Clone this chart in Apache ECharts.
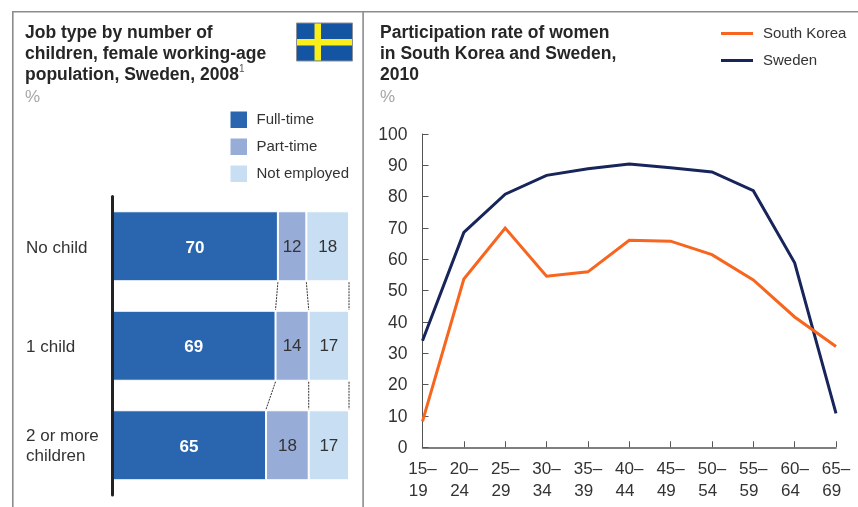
<!DOCTYPE html>
<html>
<head>
<meta charset="utf-8">
<style>html,body{margin:0;padding:0;background:#fff}#c{width:858px;height:507px}</style>
<script src="https://cdn.jsdelivr.net/npm/echarts@6/dist/echarts.min.js"></script>
</head>
<body>
<div id="c"></div>
<script>
const childCategories = ['No child', '1 child', '2 or more\nchildren'];
const fullTime = [70, 69, 65];
const partTime = [12, 14, 18];
const notEmployed = [18, 17, 17];
const ageGroups = ['15–\n19','20–\n24','25–\n29','30–\n34','35–\n39','40–\n44','45–\n49','50–\n54','55–\n59','60–\n64','65–\n69'];
const southKorea = [8.3, 53.7, 70, 54.6, 56, 66.1, 65.8, 61.5, 53.4, 41.6, 32.2];
const sweden = [34, 68.6, 80.8, 86.8, 88.9, 90.4, 89.2, 87.9, 81.9, 58.9, 10.8];

const FONT = '"Liberation Sans", Arial, sans-serif';
const INK = '#333333';
const BAR_W = 70;

const connectors = [];
for (let i = 0; i < childCategories.length - 1; i++) {
  connectors.push([fullTime[i], fullTime[i + 1], i]);
  connectors.push([fullTime[i] + partTime[i], fullTime[i + 1] + partTime[i + 1], i]);
  connectors.push([100, 100, i]);
}

const titleStyle = {fontFamily: FONT, fontSize: 17.5, fontWeight: 'bold', color: '#262626', lineHeight: 21,
  rich: {sup: {fontFamily: FONT, fontSize: 10, fontWeight: 'normal', color: '#555', verticalAlign: 'top', padding: [0, 0, 8, 0], lineHeight: 21}}};
const pctStyle = {fontFamily: FONT, fontSize: 17, fontWeight: 'normal', color: '#a6a6a6'};

function barSeries(name, data, color, labelColor, bold) {
  return {
    name, type: 'bar', stack: 'jobs', xAxisIndex: 0, yAxisIndex: 0, data, barWidth: BAR_W, z: 2,
    itemStyle: {color, borderColor: '#ffffff', borderWidth: 1},
    label: {show: true, position: 'inside', offset: [0, bold ? 2 : 1], fontFamily: FONT, fontSize: 17, color: labelColor, fontWeight: bold ? 'bold' : 'normal'},
    emphasis: {disabled: true}
  };
}

const chart = echarts.init(document.getElementById('c'), null, {renderer: 'canvas'});
chart.setOption({
  animation: false,
  backgroundColor: '#ffffff',
  textStyle: {fontFamily: FONT},
  title: [
    {left: 25, top: 22.5, padding: 0, text: 'Job type by number of\nchildren, female working-age\npopulation, Sweden, 2008{sup|1}', textStyle: titleStyle},
    {left: 25, top: 89, padding: 0, text: '%', textStyle: pctStyle},
    {left: 380, top: 22.5, padding: 0, text: 'Participation rate of women\nin South Korea and Sweden,\n2010', textStyle: titleStyle},
    {left: 380, top: 89, padding: 0, text: '%', textStyle: pctStyle}
  ],
  legend: [
    {orient: 'vertical', left: 228.5, top: 109.5, padding: 0, itemWidth: 18.5, itemHeight: 18.5, itemGap: 6.5, icon: 'rect',
     data: ['Full-time', 'Part-time', 'Not employed'], selectedMode: false,
     textStyle: {fontFamily: FONT, fontSize: 15, color: INK, padding: [0, 0, 0, 3.5]}},
    {orient: 'vertical', left: 721, top: 26, padding: 0, itemWidth: 32, itemHeight: 3, itemGap: 12, icon: 'rect',
     data: ['South Korea', 'Sweden'], selectedMode: false,
     textStyle: {fontFamily: FONT, fontSize: 15, color: INK, padding: [0, 0, 0, 5]}}
  ],
  grid: [
    {left: 112, top: 196.5, width: 237, height: 298.5},
    {left: 422.5, top: 134, width: 413.5, height: 313.3}
  ],
  xAxis: [
    {type: 'value', gridIndex: 0, min: 0, max: 100, show: false},
    {type: 'category', gridIndex: 1, data: ageGroups, boundaryGap: false,
     axisLine: {lineStyle: {color: '#555555', width: 1.5}},
     axisTick: {show: true, inside: true, length: 6, alignWithLabel: true, lineStyle: {color: '#555555', width: 1}},
     axisLabel: {fontFamily: FONT, fontSize: 17, color: INK, lineHeight: 22, margin: 11, interval: 0, showMaxLabel: true, showMinLabel: true, hideOverlap: false,
       formatter: v => v.replace(/\n(.*)$/, '\n$1\u2002')}}
  ],
  yAxis: [
    {type: 'category', gridIndex: 0, data: childCategories, inverse: true, z: 10,
     axisLine: {lineStyle: {color: '#222222', width: 3}},
     axisTick: {show: false},
     axisLabel: {fontFamily: FONT, fontSize: 17, color: INK, lineHeight: 22, align: 'left', margin: 86,
       formatter: v => v.split('\n').map((s, i) => (i === 0 ? '{a|' : '{b|') + s + '}').join('\n'),
       rich: {a: {fontFamily: FONT, fontSize: 17, color: INK, lineHeight: 22, padding: [4, 0, 0, 0]},
              b: {fontFamily: FONT, fontSize: 17, color: INK, lineHeight: 22}}}},
    {type: 'value', gridIndex: 1, min: 0, max: 100, interval: 10, splitLine: {show: false},
     axisLine: {show: true, lineStyle: {color: '#555555', width: 1}},
     axisTick: {show: true, inside: true, length: 6, lineStyle: {color: '#555555', width: 1}},
     axisLabel: {color: INK, margin: 15, formatter: '{a|{value}}',
       rich: {a: {fontFamily: FONT, fontSize: 17.5, color: INK, padding: [2, 0, 0, 0]}}}}
  ],
  series: [
    barSeries('Full-time', fullTime, '#2A66B0', '#ffffff', true),
    barSeries('Part-time', partTime, '#98ACD8', INK, false),
    barSeries('Not employed', notEmployed, '#C8DFF3', INK, false),
    {type: 'custom', xAxisIndex: 0, yAxisIndex: 0, data: connectors, encode: {x: [0, 1], y: 2}, silent: true, clip: false,
     renderItem(params, api) {
       const a = api.coord([api.value(0), api.value(2)]);
       const b = api.coord([api.value(1), api.value(2) + 1]);
       return {type: 'line', shape: {x1: a[0], y1: a[1] + BAR_W / 2 + 1, x2: b[0], y2: b[1] - BAR_W / 2 - 1},
         style: {stroke: '#333333', lineWidth: 1, lineDash: [2, 1]}};
     }},
    {name: 'South Korea', type: 'line', xAxisIndex: 1, yAxisIndex: 1, data: southKorea, symbol: 'none',
     lineStyle: {color: '#F7651E', width: 3, cap: 'butt', join: 'miter'}, itemStyle: {color: '#F7651E'}, z: 4},
    {name: 'Sweden', type: 'line', xAxisIndex: 1, yAxisIndex: 1, data: sweden, symbol: 'none',
     lineStyle: {color: '#17255A', width: 3, cap: 'butt', join: 'miter'}, itemStyle: {color: '#17255A'}, z: 3}
  ],
  graphic: [
    {type: 'rect', silent: true, shape: {x: 12, y: 11, width: 846, height: 1.6}, style: {fill: '#8c8c8c'}},
    {type: 'rect', silent: true, shape: {x: 12, y: 11, width: 1.6, height: 496}, style: {fill: '#8c8c8c'}},
    {type: 'rect', silent: true, shape: {x: 362.3, y: 11, width: 1.6, height: 496}, style: {fill: '#8c8c8c'}},
    {type: 'rect', silent: true, shape: {x: 296.5, y: 23, width: 56, height: 38}, style: {fill: '#1354A3', stroke: '#8a8f99', lineWidth: 1}},
    {type: 'rect', silent: true, shape: {x: 314.5, y: 23.5, width: 6.5, height: 37}, style: {fill: '#FBEF1B'}},
    {type: 'rect', silent: true, shape: {x: 297, y: 39, width: 55, height: 6.5}, style: {fill: '#FBEF1B'}}
  ]
});
</script>
</body>
</html>
